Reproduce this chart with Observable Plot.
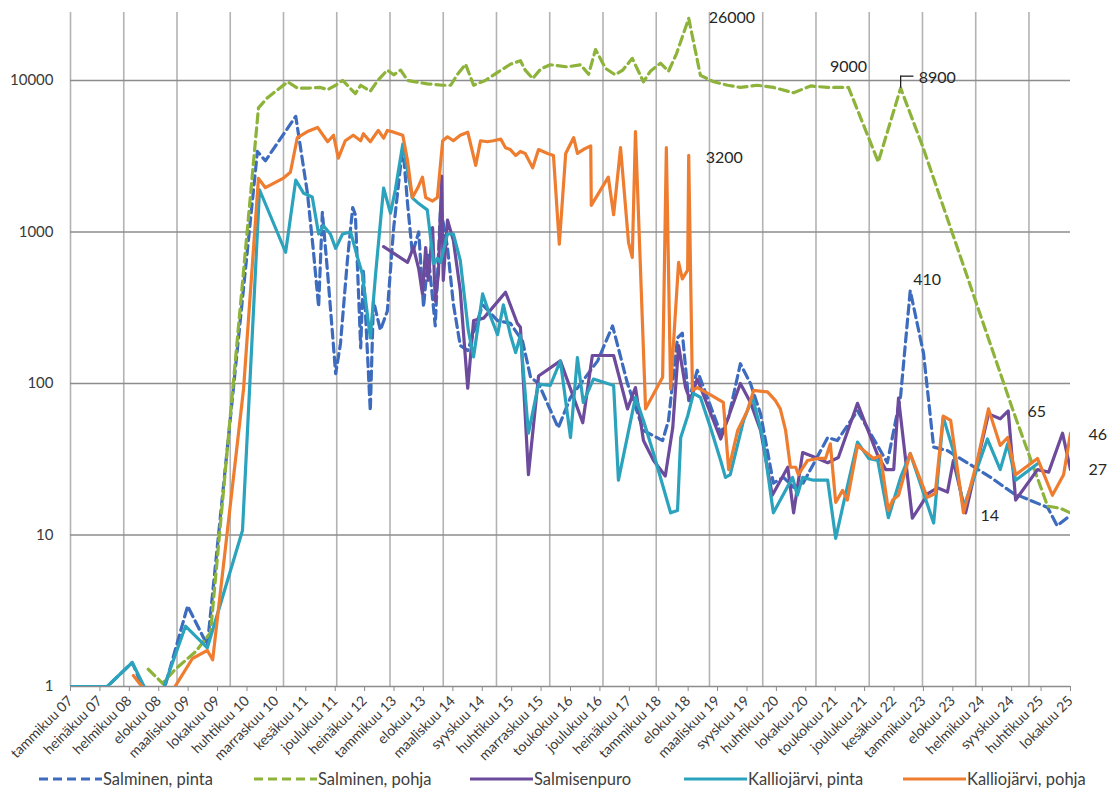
<!DOCTYPE html>
<html><head><meta charset="utf-8">
<script src="https://cdn.jsdelivr.net/npm/d3@7"></script>
<script src="https://cdn.jsdelivr.net/npm/@observablehq/plot@0.6"></script>
<style>
body{margin:0;background:#fff;font-family:Lato,"Open Sans",sans-serif;}
#wrap{position:relative;width:1114px;height:796px;overflow:hidden;}
#legend{position:absolute;left:0;top:764px;width:1114px;height:30px;}
.item{position:absolute;top:0;height:30px;display:flex;align-items:center;font-size:16.5px;color:#404040;white-space:nowrap;}
.item svg{margin-right:1px;}
</style></head><body><div id="wrap"><div id="chart"></div><div id="legend"></div></div>
<script>
// ---- data (x = decimal year, y = value) ----
const seriesNames = ["Salminen, pinta", "Salminen, pohja", "Salmisenpuro", "Kalliojärvi, pinta", "Kalliojärvi, pohja"];
const seriesColors = ["#3d6bbd", "#8db33a", "#6c4a9c", "#2ba3bd", "#ee7d30"];
const seriesDashed = [true, true, false, false, false];

const salminenPinta = [[2007.00,1],[2007.69,1],[2008.16,1.44],[2008.50,0.75],[2008.65,0.7],[2009.20,3.4],[2009.57,1.87],[2010.51,3400],[2010.66,2950],[2011.23,5800],[2011.32,3600],[2011.45,1800],[2011.56,760],[2011.66,320],[2011.73,1350],[2011.83,530],[2011.98,116],[2012.07,183],[2012.20,650],[2012.30,1450],[2012.35,1300],[2012.45,172],[2012.50,560],[2012.63,66],[2012.69,350],[2012.82,225],[2012.95,300],[2013.07,1070],[2013.24,3700],[2013.33,1540],[2013.42,720],[2013.54,1000],[2013.63,320],[2013.72,700],[2013.85,240],[2013.95,1450],[2014.08,790],[2014.19,335],[2014.32,178],[2014.46,165],[2014.74,330],[2015.02,260],[2015.26,250],[2015.49,190],[2015.64,110],[2015.79,100],[2016.16,51],[2016.39,81],[2016.90,141],[2017.18,240],[2017.46,100],[2017.76,49],[2018.12,42],[2018.23,57],[2018.40,200],[2018.49,215],[2018.61,77],[2018.77,122],[2019.21,47],[2019.36,60],[2019.58,135],[2019.77,100],[2019.96,63],[2020.20,22],[2020.39,24],[2020.58,20.6],[2020.76,22],[2021.22,44],[2021.40,42],[2021.78,66],[2022.34,30],[2022.59,83],[2022.77,410],[2023.02,158],[2023.21,38],[2023.47,36],[2023.84,30],[2024.28,24],[2024.71,18.8],[2025.35,15.2],[2025.53,11.5],[2025.72,13]];

const salminenPohja = [[2008.46,1.3],[2008.73,1.05],[2008.97,1.3],[2009.35,1.7],[2009.63,2.27],[2010.53,6600],[2010.70,7700],[2011.08,9800],[2011.26,8900],[2011.47,8900],[2011.69,9000],[2011.83,8700],[2011.98,9300],[2012.11,10000],[2012.35,8200],[2012.45,9300],[2012.63,8500],[2012.77,10000],[2012.95,11700],[2013.07,10900],[2013.20,11700],[2013.33,10000],[2013.70,9500],[2013.99,9300],[2014.14,9300],[2014.27,11000],[2014.42,12800],[2014.57,9300],[2014.79,10000],[2015.02,11300],[2015.26,12800],[2015.45,13500],[2015.54,11700],[2015.68,10300],[2015.83,11900],[2016.01,12700],[2016.33,12300],[2016.58,12700],[2016.73,11000],[2016.86,16000],[2017.05,12000],[2017.23,10900],[2017.37,11700],[2017.55,14000],[2017.76,9800],[2017.89,11500],[2018.08,13000],[2018.23,11500],[2018.38,15000],[2018.61,25700],[2018.83,10800],[2019.08,9800],[2019.34,9300],[2019.58,9000],[2019.90,9300],[2020.20,9000],[2020.58,8300],[2020.90,9200],[2021.22,9000],[2021.52,9000],[2021.61,9000],[2022.17,2900],[2022.59,8900],[2023.00,3700],[2024.71,65],[2025.35,15.5],[2025.59,15],[2025.78,14]];

const salmisenpuro = [[2012.88,800],[2013.33,630],[2013.44,790],[2013.54,570],[2013.61,390],[2013.67,790],[2013.72,480],[2013.80,1070],[2013.85,350],[2013.91,530],[2013.97,2340],[2014.00,480],[2014.08,1200],[2014.19,880],[2014.32,410],[2014.46,93],[2014.57,260],[2014.76,270],[2015.17,400],[2015.39,250],[2015.45,235],[2015.60,25],[2015.79,112],[2016.20,141],[2016.62,55],[2016.80,153],[2017.20,153],[2017.46,68],[2017.61,94],[2017.76,42],[2017.95,31],[2018.17,24.5],[2018.31,51],[2018.42,178],[2018.55,94],[2018.64,77],[2018.77,107],[2019.21,43],[2019.58,100],[2019.77,75],[2019.96,49],[2020.18,18.3],[2020.47,28],[2020.58,14],[2020.75,35],[2020.99,32.5],[2021.22,30],[2021.42,32.5],[2021.78,74],[2022.16,33.5],[2022.31,27],[2022.46,27],[2022.55,80],[2022.81,12.9],[2023.11,18.8],[2023.28,20.5],[2023.47,19.2],[2023.58,31],[2023.81,14],[2024.24,63],[2024.46,58.5],[2024.61,66],[2024.75,17],[2025.16,27],[2025.37,26],[2025.63,47],[2025.78,27]];

const kalliojarviPinta = [[2007.00,1],[2007.69,1],[2008.16,1.44],[2008.60,0.7],[2009.16,2.5],[2009.57,1.8],[2010.23,10.7],[2010.55,1900],[2011.04,735],[2011.23,2200],[2011.38,1800],[2011.54,1700],[2011.66,970],[2011.75,1100],[2011.88,970],[2011.98,780],[2012.11,970],[2012.26,1000],[2012.39,680],[2012.48,530],[2012.63,200],[2012.73,530],[2012.88,1950],[2013.01,1330],[2013.10,1900],[2013.24,3800],[2013.42,1680],[2013.54,1540],[2013.70,1400],[2013.82,620],[2013.89,670],[2013.95,630],[2014.08,970],[2014.19,970],[2014.32,650],[2014.47,225],[2014.57,150],[2014.74,390],[2014.85,300],[2015.02,210],[2015.13,330],[2015.26,210],[2015.36,160],[2015.45,208],[2015.60,47],[2015.79,99],[2016.01,97],[2016.20,141],[2016.39,44],[2016.52,148],[2016.63,75],[2016.82,107],[2017.20,97],[2017.29,23],[2017.61,81],[2017.76,57],[2017.95,34.5],[2018.14,20.2],[2018.27,14],[2018.40,14.5],[2018.46,44],[2018.59,61],[2018.70,86],[2018.83,81],[2019.02,51],[2019.21,31],[2019.30,24],[2019.39,25],[2019.64,57],[2019.81,81],[2020.00,44],[2020.20,14],[2020.33,17],[2020.56,24],[2020.65,18.3],[2020.75,24],[2020.95,23],[2021.22,23],[2021.37,9.5],[2021.50,15.2],[2021.78,41],[2021.99,32],[2022.16,31],[2022.36,13],[2022.59,24],[2022.77,34.5],[2023.21,12],[2023.39,60],[2023.58,36],[2023.77,15.2],[2024.22,43],[2024.46,27],[2024.60,40],[2024.75,23],[2025.16,29.5]];

const kalliojarviPohja = [[2008.18,1.18],[2008.69,0.7],[2009.29,1.53],[2009.57,1.73],[2009.67,1.5],[2010.25,92],[2010.53,2260],[2010.66,1960],[2011.00,2270],[2011.13,2480],[2011.26,4200],[2011.45,4600],[2011.64,4900],[2011.83,3940],[2011.94,4350],[2012.03,3070],[2012.16,4000],[2012.31,4350],[2012.45,4000],[2012.50,4450],[2012.63,3940],[2012.78,4680],[2012.88,4160],[2012.95,4680],[2013.07,4560],[2013.24,4350],[2013.33,2950],[2013.42,1690],[2013.52,1950],[2013.61,2300],[2013.67,1690],[2013.80,1600],[2013.89,1690],[2013.99,4000],[2014.08,4250],[2014.19,4000],[2014.32,4350],[2014.46,4560],[2014.61,2750],[2014.70,4000],[2014.83,3940],[2014.94,4000],[2015.08,4100],[2015.17,3600],[2015.26,3500],[2015.36,3200],[2015.45,3400],[2015.54,3300],[2015.68,2650],[2015.79,3500],[2015.96,3300],[2016.07,3200],[2016.18,830],[2016.30,3300],[2016.45,4200],[2016.52,3300],[2016.63,3500],[2016.77,3700],[2016.78,1500],[2017.10,2300],[2017.20,1300],[2017.33,3600],[2017.48,850],[2017.55,680],[2017.61,4600],[2017.80,68],[2018.12,110],[2018.19,3600],[2018.27,92],[2018.42,630],[2018.49,490],[2018.59,560],[2018.61,3200],[2018.68,90],[2018.77,94],[2019.02,84],[2019.26,75],[2019.36,27],[2019.53,49],[2019.71,66],[2019.83,90],[2020.09,88],[2020.24,77],[2020.33,68],[2020.43,49],[2020.52,28],[2020.62,28],[2020.67,25],[2020.84,31],[2021.03,32],[2021.18,32],[2021.27,40],[2021.37,16.4],[2021.50,19.7],[2021.59,17],[2021.78,39],[2022.08,32],[2022.21,33.5],[2022.36,14.5],[2022.44,17],[2022.55,18.3],[2022.77,34.5],[2023.09,17.7],[2023.24,18.8],[2023.39,61],[2023.53,57],[2023.77,14],[2024.03,31],[2024.24,68],[2024.46,39],[2024.60,44],[2024.75,25],[2025.16,32],[2025.44,18.3],[2025.65,25],[2025.78,47]];

const tickLabels = ["tammikuu 07","heinäkuu 07","helmikuu 08","elokuu 08","maaliskuu 09","lokakuu 09","huhtikuu 10","marraskuu 10","kesäkuu 11","joulukuu 11","heinäkuu 12","tammikuu 13","elokuu 13","maaliskuu 14","syyskuu 14","huhtikuu 15","marraskuu 15","toukokuu 16","joulukuu 16","heinäkuu 17","tammikuu 18","elokuu 18","maaliskuu 19","syyskuu 19","huhtikuu 20","lokakuu 20","toukokuu 21","joulukuu 21","kesäkuu 22","tammikuu 23","elokuu 23","helmikuu 24","syyskuu 24","huhtikuu 25","lokakuu 25"];
const yTicks = [1, 10, 100, 1000, 10000];

// annotated values: [decimal year, value, label]
const annotations = [[2018.61,25700,"26000"],[2021.61,9000,"9000"],[2022.59,8900,"8900"],[2018.61,3200,"3200"],[2022.77,410,"410"],[2024.71,65,"65"],[2025.78,47,"46"],[2025.78,27,"27"],[2023.77,14,"14"]];

// ---- layout ----
const xDomain = [2007, 2025.78];
const yDomain = [1, 28100];
const labelOffsets = [[20,0,"start"],[0,-21,"middle"],[18,-10,"start"],[17,2,"start"],[3,-11,"start"],[14,0,"start"],[18,2,"start"],[18,0,"start"],[17,3,"start"]];

const seriesData = [salminenPinta, salminenPohja, salmisenpuro, kalliojarviPinta, kalliojarviPohja];
const tickStep = (xDomain[1] - xDomain[0]) / (tickLabels.length - 1);
const tickPos = tickLabels.map((_, i) => xDomain[0] + i * tickStep);
const labelOf = new Map(tickPos.map((p, i) => [p, tickLabels[i]]));
const yearLines = d3.range(2007, 2026);

const lineMarks = seriesData.map((data, i) => Plot.line(data, {
  x: d => d[0], y: d => d[1], stroke: seriesColors[i], strokeWidth: 3.2,
  strokeDasharray: seriesDashed[i] ? "9,5" : null, strokeLinejoin: "round", clip: true
}));

const annMarks = annotations.map((a, i) => Plot.text([a], {
  x: d => d[0], y: d => d[1], text: d => d[2], dx: labelOffsets[i][0], dy: labelOffsets[i][1],
  textAnchor: labelOffsets[i][2], fill: "#262626", fontSize: 16
}));
const lead = annotations[2];

const chart = Plot.plot({
  width: 1114, height: 762,
  marginLeft: 70, marginRight: 44, marginTop: 12, marginBottom: 76,
  style: {fontFamily: "Lato, 'Open Sans', sans-serif", background: "#fff"},
  x: {type: "linear", domain: xDomain},
  y: {type: "log", domain: yDomain},
  marks: [
    Plot.ruleX(yearLines, {stroke: "#b3b3b3", strokeWidth: 1.6}),
    Plot.ruleY(yTicks, {stroke: "#8c8c8c", strokeWidth: 1.4}),
    Plot.axisY({ticks: yTicks, tickFormat: d => String(d), tickSize: 0, tickPadding: 17, fontSize: 15, fill: "#3a3a3a"}),
    Plot.axisX({ticks: tickPos, tickFormat: d => labelOf.get(d), tickRotate: -45, tickSize: 5, tickPadding: 7, fontSize: 14, stroke: "#8c8c8c", fill: "#3a3a3a"}),
    ...lineMarks,
    Plot.ruleX([lead], {x: d => d[0], y1: d => d[1], y2: d => d[1] * 1.2, stroke: "#222", strokeWidth: 1.3}),
    Plot.ruleY([lead], {y: d => d[1] * 1.2, x1: d => d[0], x2: d => d[0] + 0.25, stroke: "#222", strokeWidth: 1.3}),
    ...annMarks
  ]
});
document.getElementById("chart").appendChild(chart);

// ---- legend ----
const legendLeft = [39, 254, 470, 684, 903];
const legend = document.getElementById("legend");
seriesNames.forEach((name, i) => {
  const item = document.createElement("div");
  item.className = "item";
  item.style.left = legendLeft[i] + "px";
  item.innerHTML = `<svg width="63" height="10"><line x1="0" y1="5" x2="63" y2="5" stroke="${seriesColors[i]}" stroke-width="3" ${seriesDashed[i] ? 'stroke-dasharray="9,5"' : ''}/></svg><span>${name}</span>`;
  legend.appendChild(item);
});
</script>
</body></html>
